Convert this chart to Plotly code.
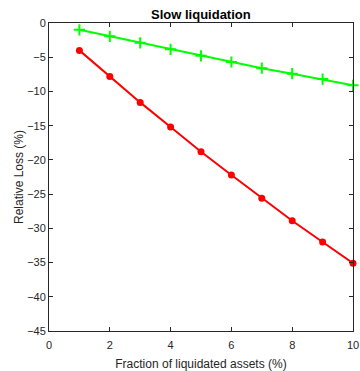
import plotly.graph_objects as go

x_vals = [1, 2, 3, 4, 5, 6, 7, 8, 9, 10]
red_loss = [-4.0, -7.8, -11.6, -15.2, -18.8, -22.2, -25.6, -28.9, -32.0, -35.1]
green_loss = [-1.0, -1.95, -2.9, -3.85, -4.8, -5.7, -6.6, -7.4, -8.2, -9.1]
x_ticks = [0, 2, 4, 6, 8, 10]
y_ticks = [0, -5, -10, -15, -20, -25, -30, -35, -40, -45]

FONT = "Liberation Sans, Arial"

fig = go.Figure()
fig.add_trace(go.Scatter(
    x=x_vals, y=green_loss, mode="lines+markers", cliponaxis=False,
    line=dict(color="#00ff00", width=2),
    marker=dict(symbol="cross-thin", size=8, line=dict(color="#00ff00", width=2)),
    showlegend=False))
fig.add_trace(go.Scatter(
    x=x_vals, y=red_loss, mode="lines+markers", cliponaxis=False,
    line=dict(color="#ff0000", width=2),
    marker=dict(symbol="circle", size=7, color="#ff0000"),
    showlegend=False))

axis_common = dict(
    showline=True, linecolor="#262626", linewidth=1, mirror="ticks",
    ticks="inside", ticklen=4, tickcolor="#262626", showgrid=False, zeroline=False,
    automargin=False,
    tickfont=dict(family=FONT, size=11, color="#262626"),
)
fig.update_xaxes(range=[0, 10], tickvals=x_ticks, ticklabelstandoff=4, **axis_common,
                 title=dict(text="Fraction of liquidated assets (%)", standoff=9,
                            font=dict(family=FONT, size=12, color="#262626")))
fig.update_yaxes(range=[-45, 0], tickvals=y_ticks, **axis_common,
                 title=dict(text="Relative Loss (%)", standoff=0,
                            font=dict(family=FONT, size=12, color="#262626")))
fig.update_layout(
    width=360, height=371,
    margin=dict(l=49, r=7, t=23, b=40),
    paper_bgcolor="white", plot_bgcolor="white",
    title=dict(text="<b>Slow liquidation</b>", x=0.558, xanchor="center",
               y=0.962, yanchor="middle",
               font=dict(family=FONT, size=13, color="black")),
)
fig.write_html("out.html", config={"displayModeBar": False},
               post_script="document.body.style.margin='0';document.body.style.padding='0';")
